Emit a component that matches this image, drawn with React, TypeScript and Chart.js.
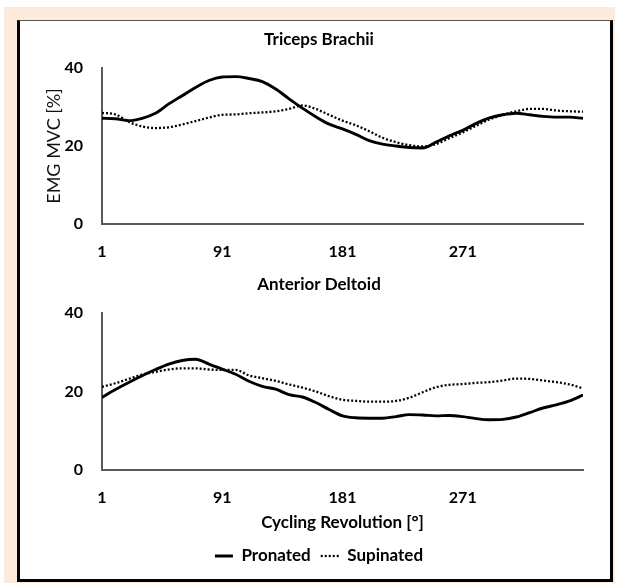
import React, { useEffect, useRef } from "react";
import { Chart, registerables } from "chart.js";

Chart.register(...registerables);

const FONT = "Lato";

const DEGREES = [
  1, 11, 21, 31, 41, 51, 61, 71, 81, 91, 101, 111, 121, 131, 141, 151, 161, 171, 181,
  191, 201, 211, 221, 231, 241, 251, 261, 271, 281, 291, 301, 311, 321, 331, 341, 351, 361,
];
const X_TICKS = [1, 91, 181, 271];
const Y_TICKS = [0, 20, 40];
const SERIES_NAMES = ["Pronated", "Supinated"];
const TITLES = ["Triceps Brachii", "Anterior Deltoid"];
const X_TITLE = "Cycling Revolution [°]";
const Y_TITLE = "EMG MVC [%]";

const TRICEPS_PRONATED = [
  27.1, 27.0, 26.5, 27.1, 28.4, 30.8, 32.9, 35.0, 36.8, 37.7, 37.8, 37.3, 36.5, 34.6, 32.1,
  29.7, 27.5, 25.6, 24.4, 23.0, 21.4, 20.5, 20.0, 19.6, 19.5, 21.0, 22.6, 24.0, 25.8, 27.2,
  28.0, 28.4, 28.0, 27.6, 27.4, 27.4, 27.1,
];
const TRICEPS_SUPINATED = [
  28.5, 28.1, 26.2, 25.0, 24.6, 24.8, 25.5, 26.4, 27.3, 28.0, 28.1, 28.4, 28.6, 28.9, 29.5,
  30.4, 29.5, 28.0, 26.5, 25.3, 23.8, 22.1, 21.0, 20.2, 19.9, 20.5, 22.0, 23.5, 25.2, 26.8,
  28.0, 28.9, 29.5, 29.5, 29.1, 28.9, 28.8,
];
const DELTOID_PRONATED = [
  18.5, 20.5, 22.3, 24.0, 25.6, 27.0, 27.9, 28.2, 27.0, 25.7, 24.4, 22.6, 21.3, 20.6, 19.2,
  18.6, 17.2, 15.4, 13.8, 13.3, 13.2, 13.2, 13.6, 14.1, 14.0, 13.8, 13.9, 13.6, 13.1, 12.8,
  12.9, 13.5, 14.6, 15.8, 16.6, 17.6, 19.1,
];
const DELTOID_SUPINATED = [
  21.2, 22.1, 23.2, 24.3, 25.0, 25.6, 25.9, 25.9, 25.6, 25.5, 25.5, 24.1, 23.4, 22.7, 21.8,
  21.0, 20.0, 18.8, 17.9, 17.6, 17.4, 17.4, 17.6, 18.4, 19.8, 21.1, 21.7, 21.9, 22.2, 22.4,
  22.8, 23.3, 23.2, 22.8, 22.4, 21.8, 20.8,
];

const CANVAS_W = 582;
const TOP_H = 250;
const BOTTOM_H = 308;

function makeConfig(isBottom: boolean, title: string, pro: number[], sup: number[]): any {
  const tickFont = { family: FONT, size: 16, weight: "bold" as const };
  const axisBorder = { display: true, color: "#595959", width: 2 };
  return {
    type: "line",
    data: {
      datasets: [
        {
          label: SERIES_NAMES[0],
          data: DEGREES.map((d, i) => ({ x: d, y: pro[i] })),
          yAxisID: "y",
          borderColor: "#000",
          backgroundColor: "#000",
          borderWidth: 2.9,
          pointRadius: 0,
          cubicInterpolationMode: "monotone",
          borderJoinStyle: "round",
          fill: false,
        },
        {
          label: SERIES_NAMES[1],
          data: DEGREES.map((d, i) => ({ x: d, y: sup[i] })),
          yAxisID: "y",
          borderColor: "#000",
          backgroundColor: "#000",
          borderWidth: 2.3,
          borderDash: [2, 2],
          pointRadius: 0,
          cubicInterpolationMode: "monotone",
          fill: false,
        },
      ],
    },
    options: {
      animation: false,
      responsive: false,
      devicePixelRatio: 1,
      events: [],
      layout: { padding: { left: 0, right: 0, top: 0, bottom: isBottom ? 4.5 : 0 } },
      plugins: {
        title: {
          display: true,
          text: title,
          color: "#000",
          font: { family: FONT, size: 17, weight: "bold" },
          padding: isBottom ? { top: 3.8, bottom: 17.8 } : { top: 8.8, bottom: 17.8 },
        },
        legend: isBottom
          ? {
              display: true,
              position: "bottom",
              labels: {
                usePointStyle: true,
                pointStyle: "line",
                pointStyleWidth: 18,
                boxHeight: 17,
                padding: 10,
                color: "#000",
                font: { family: FONT, size: 17, weight: "bold" },
                generateLabels: (chart: any) =>
                  chart.data.datasets.map((ds: any, i: number) => ({
                    text: ds.label,
                    fillStyle: ds.borderColor,
                    strokeStyle: ds.borderColor,
                    lineWidth: ds.borderWidth,
                    lineDash: ds.borderDash || [],
                    lineCap: "butt",
                    pointStyle: "line",
                    hidden: false,
                    datasetIndex: i,
                  })),
              },
            }
          : { display: false },
        tooltip: { enabled: false },
      },
      scales: {
        x: {
          type: "linear",
          min: 1,
          max: 361,
          afterBuildTicks: (s: any) => {
            s.ticks = X_TICKS.map((v) => ({ value: v }));
          },
          afterFit: (s: any) => {
            s.height = isBottom ? 67.5 : 47;
          },
          grid: { display: false, drawTicks: false },
          border: axisBorder,
          ticks: {
            padding: 18,
            color: "#000",
            font: tickFont,
            autoSkip: false,
            maxRotation: 0,
            callback: (v: any) => String(v),
          },
          title: isBottom
            ? {
                display: true,
                text: X_TITLE,
                color: "#000",
                font: { family: FONT, size: 17, weight: "bold" },
                padding: { top: 0, bottom: 4.3 },
              }
            : { display: false },
        },
        y: {
          min: 0,
          max: 40,
          position: "left",
          afterBuildTicks: (s: any) => {
            s.ticks = Y_TICKS.map((v) => ({ value: v }));
          },
          afterFit: (s: any) => {
            s.width = 74;
          },
          grid: { display: false, drawTicks: false },
          border: axisBorder,
          ticks: {
            padding: 19,
            color: "#000",
            font: tickFont,
            callback: (v: any) => String(v),
          },
          title: isBottom
            ? { display: false }
            : {
                display: true,
                text: Y_TITLE,
                color: "#111",
                font: { family: FONT, size: 18, weight: "normal" },
                padding: { top: 15.2, bottom: 0 },
              },
        },
        yRight: {
          position: "right",
          min: 0,
          max: 40,
          afterFit: (s: any) => {
            s.width = 27;
          },
          grid: { display: false, drawTicks: false },
          border: { display: false },
          ticks: { display: false },
          title: { display: false },
        },
      },
    },
  };
}

function ChartCanvas({ config, left, top, width, height }: any) {
  const ref = useRef<HTMLCanvasElement | null>(null);
  useEffect(() => {
    if (!ref.current) return;
    const chart = new Chart(ref.current, config);
    return () => chart.destroy();
  }, [config]);
  return (
    <canvas
      ref={ref}
      width={width}
      height={height}
      style={{ position: "absolute", left, top, width, height }}
    />
  );
}

const topConfig = makeConfig(false, TITLES[0], TRICEPS_PRONATED, TRICEPS_SUPINATED);
const bottomConfig = makeConfig(true, TITLES[1], DELTOID_PRONATED, DELTOID_SUPINATED);

export default function App() {
  return (
    <div style={{ position: "absolute", left: 0, top: 0, width: 617, height: 583, background: "#fff" }}>
      <div style={{ position: "absolute", left: 4, top: 7, width: 611, height: 576, background: "#FCEADB" }} />
      <div
        style={{
          position: "absolute",
          left: 17,
          top: 20,
          width: 596,
          height: 562,
          boxSizing: "border-box",
          background: "#fff",
          borderLeft: "3px solid #000",
          borderRight: "3px solid #000",
          borderBottom: "3px solid #000",
          borderTop: "1px solid #555",
        }}
      />
      <ChartCanvas config={topConfig} left={28} top={21} width={CANVAS_W} height={TOP_H} />
      <ChartCanvas config={bottomConfig} left={28} top={271} width={CANVAS_W} height={BOTTOM_H} />
    </div>
  );
}
